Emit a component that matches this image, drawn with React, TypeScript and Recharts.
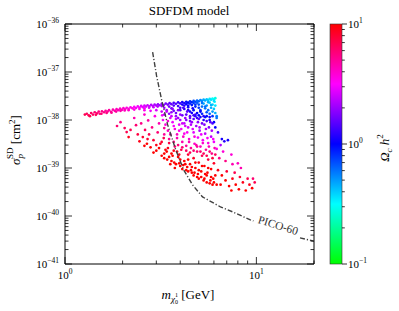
import React from 'react';
import { ScatterChart, Scatter, XAxis, YAxis } from 'recharts';

// [mass (GeV), sigma_SD (cm^2), Omega h^2]
const topBand: number[][] = [
  [1.27, 1.3e-38, 7], [1.3, 1.35e-38, 6.5], [1.33, 1.25e-38, 6.8], [1.37, 1.4e-38, 6.3],
  [1.4, 1.3e-38, 6.4], [1.43, 1.45e-38, 5.9], [1.47, 1.38e-38, 6], [1.5, 1.5e-38, 5.6],
  [1.52, 1.35e-38, 5.7], [1.56, 1.52e-38, 5.3], [1.6, 1.45e-38, 5.4], [1.63, 1.56e-38, 5],
  [1.67, 1.5e-38, 5.1], [1.7, 1.6e-38, 4.8], [1.74, 1.48e-38, 4.9], [1.78, 1.64e-38, 4.6],
  [1.82, 1.55e-38, 4.6], [1.86, 1.68e-38, 4.3], [1.9, 1.6e-38, 4.4], [1.94, 1.72e-38, 4.1],
  [1.98, 1.62e-38, 4.2], [2.02, 1.76e-38, 3.9], [2.06, 1.66e-38, 4], [2.1, 1.8e-38, 3.7],
  [2.15, 1.7e-38, 3.7], [2.2, 1.84e-38, 3.4], [2.25, 1.75e-38, 3.5], [2.3, 1.88e-38, 3.2],
  [2.35, 1.78e-38, 3.3], [2.4, 1.92e-38, 3.0], [2.45, 1.82e-38, 3.1], [2.5, 1.96e-38, 2.85],
  [2.55, 1.85e-38, 2.9], [2.6, 2.0e-38, 2.65], [2.65, 1.9e-38, 2.7], [2.7, 2.03e-38, 2.5],
  [2.76, 1.92e-38, 2.5], [2.82, 2.07e-38, 2.3], [2.88, 1.95e-38, 2.35], [2.94, 2.1e-38, 2.15],
  [3.0, 2.0e-38, 2.2], [3.06, 2.13e-38, 2.0], [3.12, 2.03e-38, 2.05], [3.2, 2.16e-38, 1.85],
  [3.28, 2.05e-38, 1.9], [3.36, 2.2e-38, 1.7], [3.44, 2.1e-38, 1.75], [3.52, 2.24e-38, 1.55],
  [3.6, 2.14e-38, 1.6], [3.7, 2.28e-38, 1.4], [3.8, 2.18e-38, 1.45], [3.9, 2.32e-38, 1.25],
  [4.0, 2.22e-38, 1.3], [4.1, 2.36e-38, 1.1], [4.2, 2.26e-38, 1.12], [4.3, 2.4e-38, 0.95],
  [4.4, 2.3e-38, 1.0], [4.5, 2.45e-38, 0.82], [4.6, 2.35e-38, 0.85], [4.7, 2.5e-38, 0.72],
  [4.8, 2.4e-38, 0.74], [4.9, 2.55e-38, 0.62], [5.0, 2.45e-38, 0.65], [5.1, 2.6e-38, 0.54],
  [5.2, 2.5e-38, 0.55], [5.3, 2.65e-38, 0.46], [5.4, 2.55e-38, 0.48], [5.5, 2.7e-38, 0.4],
  [5.6, 2.6e-38, 0.41], [5.7, 2.75e-38, 0.35], [5.8, 2.65e-38, 0.36], [5.9, 2.8e-38, 0.31],
  [6.0, 2.7e-38, 0.32], [6.1, 2.85e-38, 0.28],
];

const bandUnder: number[][] = [
  [1.35, 1.2e-38, 7], [1.45, 1.28e-38, 6.6], [1.55, 1.35e-38, 6], [1.65, 1.4e-38, 5.6],
  [1.75, 1.42e-38, 5.2], [1.85, 1.5e-38, 4.9], [1.95, 1.55e-38, 4.6], [2.05, 1.58e-38, 4.3],
  [2.15, 1.6e-38, 4], [2.3, 1.65e-38, 3.6], [2.45, 1.7e-38, 3.3], [2.6, 1.75e-38, 3],
  [2.75, 1.8e-38, 2.7], [2.9, 1.85e-38, 2.5], [3.05, 1.9e-38, 2.3], [3.2, 1.95e-38, 2.1],
];

const cyanBlock: number[][] = [
  [5.3, 2.2e-38, 0.45], [5.5, 2.0e-38, 0.5], [5.7, 2.3e-38, 0.38], [5.9, 2.1e-38, 0.38],
  [6.05, 2.4e-38, 0.33], [6.1, 2.0e-38, 0.35], [5.8, 1.8e-38, 0.45], [6.0, 1.7e-38, 0.4],
  [5.4, 1.75e-38, 0.6], [5.6, 1.6e-38, 0.6], [5.2, 1.9e-38, 0.6], [5.0, 2.1e-38, 0.7],
  [4.8, 1.9e-38, 0.85], [4.6, 2.05e-38, 0.9], [4.4, 1.85e-38, 1.1], [4.2, 2.0e-38, 1.2],
  [5.9, 1.5e-38, 0.5], [6.1, 1.4e-38, 0.45], [5.7, 1.35e-38, 0.65], [5.5, 1.45e-38, 0.7],
  [5.1, 1.6e-38, 0.8], [4.9, 1.4e-38, 1.0], [4.7, 1.6e-38, 0.95], [4.5, 1.5e-38, 1.1],
  [6.2, 1.2e-38, 0.55], [6.1, 7e-39, 1.0], [6.0, 2.5e-38, 0.36], [5.6, 2.35e-38, 0.45],
  [5.2, 2.25e-38, 0.6], [4.8, 2.1e-38, 0.8], [5.8, 2.05e-38, 0.45], [5.4, 1.9e-38, 0.6],
  [5.0, 1.8e-38, 0.8],
];

const denseTop: number[][] = [
  [3.3, 1.8e-38, 2.0], [3.5, 1.9e-38, 1.7], [3.7, 2e-38, 1.45], [3.9, 1.95e-38, 1.35],
  [4.1, 2.1e-38, 1.1], [4.3, 2.15e-38, 0.98], [4.5, 2.2e-38, 0.85], [4.7, 2.25e-38, 0.76],
  [4.9, 2.3e-38, 0.66], [3.4, 1.6e-38, 2.1], [3.6, 1.45e-38, 1.95], [3.8, 1.4e-38, 1.7],
  [4.0, 1.6e-38, 1.4], [4.2, 1.7e-38, 1.2], [4.4, 1.6e-38, 1.1], [4.6, 1.4e-38, 1.1],
  [4.8, 1.2e-38, 1.2], [5.0, 1.25e-38, 1.0], [5.2, 1.35e-38, 0.85], [5.4, 1.15e-38, 0.9],
  [3.8, 1.2e-38, 2.0], [4.0, 1e-38, 2.1], [4.2, 8.5e-39, 2.4], [4.5, 9.5e-39, 1.8],
  [4.3, 1.3e-38, 1.55], [4.7, 1.05e-38, 1.5], [3.2, 1.5e-38, 2.5], [3.0, 1.6e-38, 2.7],
  [2.8, 1.55e-38, 3.0], [2.6, 1.6e-38, 3.4], [3.3, 1.3e-38, 2.2], [3.5, 1.35e-38, 1.9],
  [3.7, 1.55e-38, 1.65], [3.9, 1.1e-38, 2.0], [4.1, 1.25e-38, 1.65], [4.3, 1e-38, 1.9],
  [4.5, 1.1e-38, 1.6], [4.7, 1.25e-38, 1.3], [4.9, 1.1e-38, 1.3], [5.1, 1.15e-38, 1.1],
  [5.3, 1e-38, 1.2], [5.5, 1.2e-38, 0.95], [5.7, 1e-38, 1.05], [5.9, 1.2e-38, 0.8],
  [6.0, 9e-39, 1.0], [4.0, 1.8e-38, 1.3], [4.4, 2e-38, 1.0], [3.6, 1.75e-38, 1.65],
];

const leftScatter: number[][] = [
  [1.87, 7.5e-39, 6], [1.95, 9e-39, 5.5], [2.05, 6.8e-39, 6.5], [2.1, 5.6e-39, 7],
  [2.15, 4.4e-39, 9], [2.2, 6.2e-39, 7], [2.3, 1.1e-38, 4.5], [2.35, 7.8e-39, 6],
  [2.4, 5e-39, 7.5], [2.45, 3.6e-39, 9], [2.5, 8.5e-39, 5.5], [2.55, 4.4e-39, 8],
  [2.6, 1.3e-38, 4], [2.62, 6.2e-39, 6.5], [2.68, 3.2e-39, 10], [2.72, 9.8e-39, 4.8],
  [2.75, 5e-39, 7], [2.8, 2.7e-39, 10], [2.85, 7e-39, 5.5], [2.9, 3.8e-39, 8],
  [2.95, 1.2e-38, 3.5], [3.0, 2.3e-39, 10], [3.05, 5.5e-39, 6], [3.1, 8.5e-39, 4.5],
  [3.15, 3.2e-39, 8.5], [3.2, 1.8e-39, 11], [3.22, 1.25e-38, 3], [3.28, 4.2e-39, 7],
  [3.3, 6.8e-39, 5], [3.35, 2.4e-39, 9.5], [3.4, 1.5e-38, 2.4], [3.42, 1.5e-39, 12],
  [3.45, 9.5e-39, 3.8], [3.5, 3.3e-39, 7.5],
];

const core: number[][] = [
  [3.55, 5e-39, 4.5], [3.6, 1.2e-38, 2.5], [3.6, 2e-39, 10], [3.65, 1.7e-38, 1.9],
  [3.7, 7.5e-39, 3.2], [3.72, 1.3e-39, 12], [3.75, 2.8e-39, 6], [3.8, 1.05e-38, 2.5],
  [3.85, 4.2e-39, 4.5], [3.9, 1.6e-38, 1.8], [3.9, 1.7e-39, 10], [3.95, 6e-39, 3.5],
  [4.0, 1.1e-39, 12], [4.0, 1.3e-38, 2], [4.05, 2.4e-39, 7], [4.1, 8.5e-39, 2.6],
  [4.1, 3.5e-39, 4.6], [4.15, 1.8e-38, 1.4], [4.2, 1.4e-39, 10], [4.2, 5.2e-39, 3.4],
  [4.25, 1.1e-38, 2], [4.3, 9e-40, 13], [4.3, 2.9e-39, 5], [4.35, 1.5e-38, 1.6],
  [4.4, 7e-39, 2.6], [4.4, 1.9e-39, 8], [4.45, 4e-39, 3.8], [4.5, 1.2e-39, 11],
  [4.5, 1.2e-38, 1.6], [4.55, 2.6e-39, 5], [4.6, 9e-39, 2], [4.6, 8e-40, 13],
  [4.65, 1.75e-38, 1.1], [4.7, 5.5e-39, 2.8], [4.7, 1.6e-39, 8.5], [4.75, 3.2e-39, 4],
  [4.8, 1e-39, 11], [4.8, 1.3e-38, 1.3], [4.85, 7.5e-39, 2.1], [4.9, 2.2e-39, 6],
  [4.9, 6.5e-40, 13], [4.95, 4.3e-39, 3], [5.0, 1.05e-38, 1.5], [5.0, 1.3e-39, 9],
  [5.05, 6e-39, 2.2], [5.1, 2.8e-39, 4.2], [5.1, 1.5e-38, 1], [5.15, 8.5e-40, 12],
  [5.2, 8.5e-39, 1.7], [5.2, 1.8e-39, 7], [5.25, 3.8e-39, 3.2], [5.3, 1.2e-38, 1.2],
  [5.3, 5.5e-40, 13], [5.35, 1.1e-39, 10], [5.4, 5.2e-39, 2.4], [5.45, 2.4e-39, 5],
  [5.5, 9.5e-39, 1.4], [5.5, 7e-40, 11], [5.6, 3.3e-39, 3.5], [5.6, 1.5e-39, 7.5],
  [5.65, 7e-39, 1.8], [5.7, 1.15e-38, 1.1], [5.7, 4.8e-40, 13], [5.8, 4.5e-39, 2.4],
  [5.8, 9.5e-40, 10], [5.85, 2e-39, 5.5], [5.9, 8.5e-39, 1.4], [5.95, 6e-40, 11],
  [6.0, 1.25e-39, 8.5], [6.0, 3.5e-39, 3],
];

const midFill: number[][] = [
  [3.25, 1.0e-38, 3.2], [3.35, 8e-39, 3.6], [3.45, 6e-39, 4.2], [3.55, 1.1e-38, 2.8],
  [3.65, 9e-39, 3], [3.75, 6.5e-39, 3.6], [3.85, 5e-39, 4.2], [3.95, 8e-39, 2.9],
  [4.05, 6.5e-39, 3.2], [4.15, 4.5e-39, 4], [4.25, 7.5e-39, 2.7], [4.35, 5.5e-39, 3.3],
  [4.45, 3.5e-39, 4.4], [4.55, 8e-39, 2.3], [4.65, 6.5e-39, 2.8], [4.75, 4.5e-39, 3.6],
  [4.85, 3e-39, 4.6], [4.95, 9e-39, 1.9], [5.05, 7e-39, 2.3], [5.15, 5e-39, 3],
  [5.25, 3.3e-39, 4], [5.35, 8e-39, 1.8], [5.45, 6.5e-39, 2.2], [5.55, 4.2e-39, 3.2],
  [5.65, 2.8e-39, 4.5], [5.75, 9e-39, 1.5], [5.85, 6e-39, 2.2], [5.95, 4e-39, 3.2],
  [6.05, 2.6e-39, 4.6], [3.3, 5e-39, 5], [3.5, 4e-39, 5.2], [3.7, 3.5e-39, 5.5],
  [3.9, 3e-39, 5.8], [4.1, 2.7e-39, 6], [4.3, 2.3e-39, 6.5], [4.5, 2.1e-39, 6.8],
  [4.7, 2.3e-39, 6], [4.9, 2.8e-39, 5], [5.1, 2.2e-39, 6], [5.3, 2e-39, 6.5],
  [5.5, 1.8e-39, 7], [5.7, 2.2e-39, 6], [5.9, 1.6e-39, 7.5], [6.1, 1.9e-39, 6.5],
];

const redBand: number[][] = [
  [3.1, 2.6e-39, 10], [3.3, 2e-39, 11], [3.5, 1.7e-39, 11], [3.6, 1.4e-39, 13],
  [3.8, 1.2e-39, 12], [3.85, 2.2e-39, 9], [4.0, 1.5e-39, 11], [4.1, 9.5e-40, 14],
  [4.25, 1.2e-39, 12], [4.4, 8.5e-40, 14], [4.4, 1.5e-39, 10], [4.6, 1.05e-39, 12],
  [4.7, 7e-40, 15], [4.8, 1.3e-39, 10], [5.0, 9e-40, 12], [5.0, 6e-40, 14],
  [5.2, 1.1e-39, 10], [5.4, 7.5e-40, 12], [5.5, 5e-40, 14], [5.6, 1e-39, 10],
  [5.8, 6.5e-40, 12], [5.9, 4.5e-40, 14], [3.2, 3.5e-39, 8], [3.45, 2.6e-39, 9],
  [3.7, 2.3e-39, 9], [3.95, 1.9e-39, 9], [3.3, 1.6e-39, 12], [3.55, 1.2e-39, 13],
  [3.75, 1e-39, 14], [3.95, 1.25e-39, 12], [4.15, 1.15e-39, 12], [4.35, 1.05e-39, 13],
  [4.55, 9e-40, 14], [4.75, 8e-40, 14], [4.95, 7.5e-40, 14], [5.15, 6.5e-40, 14],
  [5.35, 6e-40, 14], [5.55, 8e-40, 12], [5.75, 5.5e-40, 14], [6.1, 7e-40, 12],
  [6.2, 4.5e-40, 14], [3.4, 2.2e-39, 10], [3.65, 1.8e-39, 11], [2.9, 2.1e-39, 12],
  [3.0, 3e-39, 9], [2.7, 4e-39, 8], [2.6, 2.9e-39, 11],
];

const rightTail: number[][] = [
  [6.2, 1.1e-38, 0.6], [6.3, 5.5e-39, 1.4], [6.6, 4e-39, 1.1], [6.8, 3.6e-39, 1.2],
  [7.1, 3.8e-39, 1.1], [6.5, 3e-39, 2.2], [6.2, 2.5e-39, 3.5], [6.7, 2.2e-39, 3.8],
  [7.4, 1.9e-39, 3.8], [7.5, 1.2e-39, 4.5], [8.0, 1.25e-39, 4.2], [8.3, 1e-39, 4.5],
  [6.4, 1.6e-39, 5.5], [6.9, 1.4e-39, 5.5], [6.3, 9e-40, 9], [6.6, 7e-40, 10],
  [6.9, 5.5e-40, 11], [7.2, 4.2e-40, 12], [7.0, 8.5e-40, 8], [7.5, 6e-40, 9],
  [7.8, 4.5e-40, 11], [8.1, 3.6e-40, 12], [7.7, 8e-40, 7], [8.2, 6.5e-40, 8],
  [8.5, 5e-40, 9], [8.8, 3.4e-40, 11], [9.0, 6e-40, 7], [9.2, 4.5e-40, 9],
  [9.5, 3.8e-40, 10], [9.6, 6e-40, 6], [9.8, 5e-40, 7], [6.5, 4.5e-40, 13],
  [7.4, 3.4e-40, 13], [6.0, 5e-40, 12],
];

// PICO-60 limit, split where the inline label sits
const picoA: number[][] = [
  [2.87, 2.6e-37], [3.01, 8.3e-38], [3.2, 2.6e-38], [3.44, 7.9e-39], [3.79, 2.4e-39],
  [4.17, 9.1e-40], [4.64, 4.45e-40], [5.23, 2.5e-40], [6.49, 1.55e-40], [7.59, 1.2e-40],
  [9.3, 8.3e-41], [9.65, 7.9e-41],
];
const picoB: number[][] = [[16.9, 3.5e-41], [20, 3.0e-41]];

const xTicks = [1, 2, 3, 4, 5, 6, 7, 8, 9, 10, 20];
const yTicks = [-41, -40, -39, -38, -37].flatMap((e) =>
  [1, 2, 3, 4, 5, 6, 7, 8, 9].map((k) => k * Math.pow(10, e))
).concat([1e-36]);
const cbarTicks = [0.1, 0.2, 0.3, 0.4, 0.5, 0.6, 0.7, 0.8, 0.9, 1, 2, 3, 4, 5, 6, 7, 8, 9, 10];

const FONT = '"Liberation Serif", "Times New Roman", serif';
const PLOT = { left: 65, top: 24, right: 314, bottom: 264 };
const CBAR = { x: 330, w: 12 };

const toPts = (rows: number[][]) => rows.map(([m, s, w]) => ({ m, s, w }));
const points = toPts([
  ...topBand, ...bandUnder, ...cyanBlock, ...denseTop, ...leftScatter,
  ...core, ...midFill, ...redBand, ...rightTail,
]);
const pico1 = toPts(picoA);
const pico2 = toPts(picoB);

const STOPS = [
  [0, [0, 255, 0]],
  [0.25, [0, 255, 255]],
  [0.5, [0, 0, 255]],
  [0.75, [255, 0, 255]],
  [1, [255, 0, 0]],
] as [number, number[]][];

function colorOf(w: number) {
  const t = Math.max(0, Math.min(1, (Math.log10(w) + 1) / 2));
  for (let i = 1; i < STOPS.length; i++) {
    const [t1, c1] = STOPS[i];
    const [t0, c0] = STOPS[i - 1];
    if (t <= t1) {
      const f = (t - t0) / (t1 - t0);
      const c = c0.map((v, j) => Math.round(v + (c1[j] - v) * f));
      return `rgb(${c[0]},${c[1]},${c[2]})`;
    }
  }
  return 'rgb(255,0,0)';
}

const isMajor = (v: number) => Math.abs(Math.log10(v) - Math.round(Math.log10(v))) < 1e-6;

const Pow = ({ x, y, exp, anchor }: { x: number; y: number; exp: number; anchor: string }) => (
  <text x={x} y={y} textAnchor={anchor} fontFamily={FONT} fontSize={11} fill="#000">
    10
    <tspan dy={-5} fontSize={7.5}>{exp < 0 ? `\u2212${-exp}` : `${exp}`}</tspan>
  </text>
);

const BottomTick = (props: any) => {
  const { x, y, payload } = props;
  const major = isMajor(payload.value);
  return (
    <g>
      <line x1={x} x2={x} y1={y} y2={y - (major ? 7 : 3.5)} stroke="#000" strokeWidth={0.8} />
      {major && <Pow x={x} y={y + 15} exp={Math.round(Math.log10(payload.value))} anchor="middle" />}
    </g>
  );
};
const TopTick = (props: any) => {
  const { x, y, payload } = props;
  const major = isMajor(payload.value);
  return <line x1={x} x2={x} y1={y} y2={y + (major ? 7 : 3.5)} stroke="#000" strokeWidth={0.8} />;
};
const LeftTick = (props: any) => {
  const { x, y, payload } = props;
  const major = isMajor(payload.value);
  return (
    <g>
      <line x1={x} x2={x + (major ? 7 : 3.5)} y1={y} y2={y} stroke="#000" strokeWidth={0.8} />
      {major && <Pow x={x - 6} y={y + 4} exp={Math.round(Math.log10(payload.value))} anchor="end" />}
    </g>
  );
};
const RightTick = (props: any) => {
  const { x, y, payload } = props;
  const major = isMajor(payload.value);
  return <line x1={x} x2={x - (major ? 7 : 3.5)} y1={y} y2={y} stroke="#000" strokeWidth={0.8} />;
};

const Dot = (props: any) => {
  const { cx, cy, payload } = props;
  if (cx == null || cy == null) return <g />;
  return <circle cx={cx} cy={cy} r={1.35} fill={colorOf(payload.w)} />;
};

const picoLine = { stroke: '#404040', strokeWidth: 1.4, strokeDasharray: '5 2 1.2 2' };

function Colorbar() {
  const h = PLOT.bottom - PLOT.top;
  const yOf = (v: number) => PLOT.bottom - ((Math.log10(v) + 1) / 2) * h;
  const x2 = CBAR.x + CBAR.w;
  return (
    <svg width={399} height={311} style={{ position: 'absolute', left: 0, top: 0, pointerEvents: 'none' }}>
      <defs>
        <linearGradient id="cb" x1="0" y1="0" x2="0" y2="1">
          <stop offset="0" stopColor="rgb(255,0,0)" />
          <stop offset="0.25" stopColor="rgb(255,0,255)" />
          <stop offset="0.5" stopColor="rgb(0,0,255)" />
          <stop offset="0.75" stopColor="rgb(0,255,255)" />
          <stop offset="1" stopColor="rgb(0,255,0)" />
        </linearGradient>
      </defs>
      <rect x={CBAR.x} y={PLOT.top} width={CBAR.w} height={h} fill="url(#cb)" stroke="#333" strokeWidth={0.6} />
      {cbarTicks.map((v) => {
        const y = yOf(v);
        const major = isMajor(v);
        return (
          <g key={v}>
            <line x1={x2} x2={x2 + (major ? 5 : 2.8)} y1={y} y2={y} stroke="#000" strokeWidth={0.8} />
            {major && <Pow x={x2 + 6} y={y + 4} exp={Math.round(Math.log10(v))} anchor="start" />}
          </g>
        );
      })}
      <text transform="translate(389,148) rotate(-90)" textAnchor="middle" fontFamily={FONT} fontSize={13}>
        <tspan fontStyle="italic">Ω</tspan>
        <tspan fontStyle="italic" fontSize={9} dy={3}>c</tspan>
        <tspan fontStyle="italic" dy={-3}> h</tspan>
        <tspan fontSize={9} dy={-6}>2</tspan>
      </text>
      <text x={189} y={15} textAnchor="middle" fontFamily={FONT} fontSize={13}>SDFDM model</text>
      <text x={188} y={299} textAnchor="middle" fontFamily={FONT} fontSize={13}>
        <tspan fontStyle="italic">m</tspan>
        <tspan fontStyle="italic" fontSize={9} dy={3}>χ</tspan>
        <tspan fontSize={6} dy={2}>0</tspan>
        <tspan fontSize={6} dx={-3} dy={-7}>1</tspan>
        <tspan dy={2}> [GeV]</tspan>
      </text>
      <text transform="translate(20,140) rotate(-90)" textAnchor="middle" fontFamily={FONT} fontSize={13}>
        <tspan fontStyle="italic">σ</tspan>
        <tspan fontStyle="italic" fontSize={9} dy={3}>p</tspan>
        <tspan fontSize={9} dx={-5} dy={-10}>SD</tspan>
        <tspan dy={7}> [cm</tspan>
        <tspan fontSize={9} dy={-5}>2</tspan>
        <tspan dy={5}>]</tspan>
      </text>
      <text transform="translate(277,229) rotate(17)" textAnchor="middle" fontFamily={FONT} fontSize={11.5} fill="#333">
        PICO-60
      </text>
    </svg>
  );
}

export default function App() {
  return (
    <div style={{ position: 'relative', width: 399, height: 311, background: '#fff' }}>
      <style>{'body{margin:0}'}</style>
      <ScatterChart
        width={399}
        height={311}
        margin={{ top: PLOT.top - 1, left: PLOT.left - 1, right: 399 - PLOT.right - 1, bottom: 311 - PLOT.bottom - 1 }}
      >
        <XAxis xAxisId="b" type="number" dataKey="m" scale="log" domain={[1, 20]} allowDataOverflow
          ticks={xTicks} interval={0} height={1} tickSize={0} tickMargin={0} tickLine={false}
          axisLine={{ stroke: '#000', strokeWidth: 1 }} tick={<BottomTick />} />
        <XAxis xAxisId="t" orientation="top" type="number" dataKey="m" scale="log" domain={[1, 20]} allowDataOverflow
          ticks={xTicks} interval={0} height={1} tickSize={0} tickMargin={0} tickLine={false}
          axisLine={{ stroke: '#000', strokeWidth: 1 }} tick={<TopTick />} />
        <YAxis yAxisId="l" type="number" dataKey="s" scale="log" domain={[1e-41, 1e-36]} allowDataOverflow
          ticks={yTicks} interval={0} width={1} tickSize={0} tickMargin={0} tickLine={false}
          axisLine={{ stroke: '#000', strokeWidth: 1 }} tick={<LeftTick />} />
        <YAxis yAxisId="r" orientation="right" type="number" dataKey="s" scale="log" domain={[1e-41, 1e-36]} allowDataOverflow
          ticks={yTicks} interval={0} width={1} tickSize={0} tickMargin={0} tickLine={false}
          axisLine={{ stroke: '#000', strokeWidth: 1 }} tick={<RightTick />} />
        <Scatter xAxisId="b" yAxisId="l" data={points} shape={<Dot />} isAnimationActive={false} />
        <Scatter xAxisId="t" yAxisId="r" data={pico1} line={picoLine} lineType="joint" shape={() => <g />} isAnimationActive={false} />
        <Scatter xAxisId="t" yAxisId="r" data={pico2} line={picoLine} lineType="joint" shape={() => <g />} isAnimationActive={false} />
      </ScatterChart>
      <Colorbar />
    </div>
  );
}
